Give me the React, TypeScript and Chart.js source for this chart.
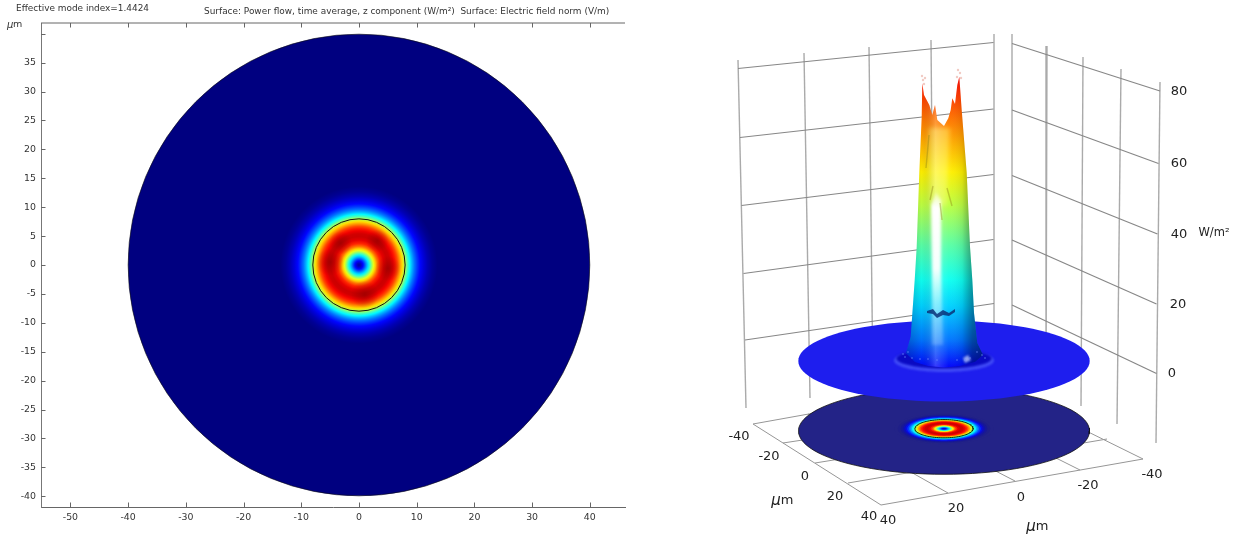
import React, { useEffect, useRef } from "react";
import { Chart, registerables } from "chart.js";

Chart.register(...registerables);

// ---------- data ----------
const xTicks = [-50, -40, -30, -20, -10, 0, 10, 20, 30, 40];
const yTicks = [-40, -35, -30, -25, -20, -15, -10, -5, 0, 5, 10, 15, 20, 25, 30, 35, 40];
const modeTitle = "Effective mode index=1.4424";
const surfaceTitle = "Surface: Power flow, time average, z component (W/m²)  Surface: Electric field norm (V/m)";
const fibreRadius = 40;
const coreRadius = 8;
// radial power profile (µm -> normalised power)
const profileRadius = [0, 0.35, 0.7, 1.0, 1.3, 1.6, 1.9, 2.2, 2.5, 2.8, 3.2, 3.7, 4.3, 4.9, 5.4, 5.9, 6.3, 6.7, 7.1, 7.5, 8, 8.4, 8.8, 9.2, 9.6, 10.1, 10.6, 11.2, 11.9, 12.7, 13.6];
const profilePower = [0.03, 0.07, 0.13, 0.2, 0.28, 0.35, 0.43, 0.52, 0.6, 0.67, 0.76, 0.84, 0.9, 0.925, 0.92, 0.89, 0.85, 0.8, 0.73, 0.66, 0.55, 0.45, 0.37, 0.3, 0.24, 0.18, 0.13, 0.09, 0.05, 0.02, 0];
// darker patches on the ring: x, y, radius (µm)
const darkPatches = [{ x: -5, y: 0.5, s: 2.4 }, { x: 5, y: -0.6, s: 2.2 }, { x: 1, y: -5.1, s: 2.4 }, { x: 3.2, y: 4.2, s: 2 }, { x: -3.2, y: 3.8, s: 2 }];

// 3-D view, in scene units of the picture
const wallLines = [
  [738, 60, 746, 408], [804, 53, 810, 398], [869, 47, 873, 388], [931, 40, 934, 380], [994, 34, 994, 375],
  [1012, 34, 1012, 375], [1047, 46, 1046, 390], [1083, 57, 1081, 406], [1121, 69, 1117, 424], [1160, 82, 1156, 443],
];
const wallRules = [
  [738, 68.5, 993.5, 42.5], [740, 137.5, 993.5, 109], [741.5, 205.5, 993.5, 174.5], [743.5, 273.5, 993.5, 239.5], [745, 340, 994, 303.5],
  [1012, 43.5, 1160, 91], [1012, 110, 1158.5, 163.5], [1012, 175.5, 1157.5, 234], [1012, 240, 1156.5, 304], [1012, 305, 1156.5, 373.5],
];
const floorLines = [
  [753, 424, 881, 505], [881, 505, 1143, 459], [753, 424, 987, 382], [1143, 459, 987, 382],
  [783, 443, 1033, 405], [815, 463, 1070, 422], [848, 483, 1107, 439],
  [948, 493, 808, 414], [1015, 481, 866, 404], [1080, 470, 926, 393],
];
const topDisc = { cx: 944, cy: 361, rx: 145.7, ry: 40.5 };
const bottomDisc = { cx: 944, cy: 431, rx: 145.5, ry: 43.3 };
const ringCentre = { cx: 944, cy: 428.7 };
const towerOutline = [
  [922.3, 83.3], [924, 95], [929.3, 105], [932.3, 115], [935, 105], [937.3, 120], [944, 126], [948.3, 118.3], [950.7, 110], [952.3, 98.3], [955, 104], [957.3, 85], [959.3, 76.7],
  [961.7, 110], [966.7, 173], [970, 246.7], [972.3, 280], [974, 313], [977.3, 343], [983, 355],
  [975, 362], [960, 366], [944, 367.5], [928, 366], [915, 362], [906, 353],
  [910.7, 336.7], [913.3, 300], [914.7, 280], [916.7, 246.7], [919.3, 173], [921.7, 116.7],
];
const towerStreak = [[936, 192], [941, 200], [941, 270], [943, 345], [932, 345], [932, 270], [931, 205]];
const towerGlow = [[929, 128], [950, 128], [947, 205], [930, 205]];
const towerCreases = [
  [[933, 186], [930, 200]], [[947, 188], [952, 206]], [[940, 203], [942, 220]], [[929, 135], [926, 168]],
];
const towerCrack = [[927, 311], [933, 309], [937, 314], [943, 310], [949, 313], [955, 309], [955, 312], [949, 316], [943, 315], [937, 318], [933, 314], [927, 313]];
const towerFuzz = [[922, 76], [923, 80], [925, 78], [924, 84], [958, 70], [960, 73], [957, 77], [961, 78]];
const baseSpecks = [[905, 357], [912, 358], [920, 359], [928, 359], [937, 360], [957, 360], [965, 360], [970, 358], [982, 355], [985, 358], [977, 352], [908, 352], [903, 354]];
const basePatch = [[963, 358], [968, 355], [971, 360], [965, 363]];
const axisLabels = [
  { t: "80", x: 1179, y: 92 }, { t: "60", x: 1179, y: 164 }, { t: "40", x: 1179, y: 235 }, { t: "20", x: 1178, y: 305 }, { t: "0", x: 1172, y: 374 },
  { t: "-40", x: 739, y: 437 }, { t: "-20", x: 769, y: 457 }, { t: "0", x: 805, y: 477 }, { t: "20", x: 835, y: 497 }, { t: "40", x: 869, y: 517 },
  { t: "40", x: 888, y: 521 }, { t: "20", x: 956, y: 509 }, { t: "0", x: 1021, y: 498 }, { t: "-20", x: 1088, y: 486 }, { t: "-40", x: 1152, y: 475 },
];
const micronLabels = [{ x: 781, y: 501 }, { x: 1036, y: 527 }];
const unitLabel = { t: "W/m²", x: 1214, y: 233 };

// ---------- colour helpers ----------
function jetRgb(v: number): number[] {
  const c = (x: number) => Math.round(255 * Math.max(0, Math.min(1, x)));
  return [c(Math.min(4 * v - 1.5, 4.5 - 4 * v)), c(Math.min(4 * v - 0.5, 3.5 - 4 * v)), c(Math.min(4 * v + 0.5, 2.5 - 4 * v))];
}
function jet(v: number): string {
  const [r, g, b] = jetRgb(v);
  return `rgb(${r},${g},${b})`;
}
const lowerDiscRgb = [35, 35, 135];
// weak power fades into the colour of the lower disc
function ringColor(v: number): string {
  const t = Math.min(1, v / 0.16);
  const rgb = jetRgb(v).map((c, i) => Math.round(c * t + lowerDiscRgb[i] * (1 - t)));
  return `rgb(${rgb[0]},${rgb[1]},${rgb[2]})`;
}
const FONT = '"DejaVu Sans", sans-serif';

function pairs(list: number[][]) {
  return list.map((p) => ({ x: p[0], y: p[1] }));
}
function ellipse(cx: number, cy: number, rx: number, ry: number) {
  const out: { x: number; y: number }[] = [];
  for (let i = 0; i <= 96; i++) {
    const a = (i / 96) * Math.PI * 2;
    out.push({ x: cx + rx * Math.cos(a), y: cy + ry * Math.sin(a) });
  }
  return out;
}

// ---------- plugins ----------
const polyFillPlugin = {
  id: "polyFill",
  beforeDatasetDraw(chart: any, args: any) {
    const ds = chart.data.datasets[args.index];
    if (!ds.polyFill) return;
    const ctx = chart.ctx;
    ctx.save();
    if (ds.polyBlur) ctx.filter = `blur(${ds.polyBlur}px)`;
    ctx.fillStyle = typeof ds.polyFill === "function" ? ds.polyFill(chart) : ds.polyFill;
    ctx.beginPath();
    args.meta.data.forEach((p: any, i: number) => (i ? ctx.lineTo(p.x, p.y) : ctx.moveTo(p.x, p.y)));
    ctx.closePath();
    ctx.fill();
    ctx.restore();
  },
};

const leftFrame = {
  id: "leftFrame",
  afterDraw(chart: any) {
    const { ctx, chartArea: a, scales } = chart;
    ctx.save();
    ctx.strokeStyle = "#666";
    ctx.lineWidth = 1;
    ctx.beginPath();
    ctx.moveTo(a.left, a.top);
    ctx.lineTo(a.right, a.top);
    xTicks.forEach((v) => {
      const x = Math.round(scales.x.getPixelForValue(v)) + 0.5;
      ctx.moveTo(x, a.top);
      ctx.lineTo(x, a.top + 4.5);
      ctx.moveTo(x, a.bottom);
      ctx.lineTo(x, a.bottom - 4.5);
    });
    yTicks.forEach((v) => {
      const y = Math.round(scales.y.getPixelForValue(v)) + 0.5;
      ctx.moveTo(a.left, y);
      ctx.lineTo(a.left + 4.5, y);
    });
    ctx.stroke();
    ctx.fillStyle = "#333";
    ctx.textBaseline = "middle";
    ctx.font = `8.93px ${FONT}`;
    ctx.fillText(modeTitle, 16, 9);
    ctx.fillText(surfaceTitle, 204, 11.5);
    ctx.font = `italic 10px ${FONT}`;
    ctx.fillText("μ", 7, 25);
    ctx.font = `9.5px ${FONT}`;
    ctx.fillText("m", 13, 25);
    ctx.restore();
  },
};

const rightText = {
  id: "rightText",
  afterDraw(chart: any) {
    const { ctx, scales } = chart;
    const px = (p: any) => [scales.x.getPixelForValue(p.x), scales.y.getPixelForValue(p.y)];
    ctx.save();
    ctx.fillStyle = "#222";
    ctx.textAlign = "center";
    ctx.textBaseline = "middle";
    ctx.font = `13px ${FONT}`;
    axisLabels.forEach((l) => {
      const [x, y] = px(l);
      ctx.fillText(l.t, x, y);
    });
    ctx.font = `11.5px ${FONT}`;
    const [ux, uy] = px(unitLabel);
    ctx.fillText(unitLabel.t, ux, uy);
    micronLabels.forEach((l) => {
      const [x, y] = px(l);
      ctx.font = `italic 15px ${FONT}`;
      ctx.fillText("μ", x - 5, y);
      ctx.font = `13px ${FONT}`;
      ctx.fillText("m", x + 6, y);
    });
    ctx.restore();
  },
};

// ---------- dataset builders for the 3-D view ----------
function segment(s: number[], color: string, width: number) {
  return {
    type: "scatter",
    showLine: true,
    borderColor: color,
    borderWidth: width,
    pointRadius: 0,
    data: [{ x: s[0], y: s[1] }, { x: s[2], y: s[3] }],
  };
}
function polygon(data: any[], fill: any, blur = 0) {
  return { type: "scatter", showLine: false, pointRadius: 0, data, polyFill: fill, polyBlur: blur };
}

function towerHeightGradient(chart: any) {
  const y = (v: number) => chart.scales.y.getPixelForValue(v);
  const g = chart.ctx.createLinearGradient(0, y(76), 0, y(368));
  const stops: [number, number][] = [[76, 0.87], [115, 0.77], [145, 0.7], [172, 0.64], [205, 0.56], [246, 0.46], [280, 0.39], [306, 0.33], [340, 0.24], [368, 0.12]];
  stops.forEach(([py, v]) => g.addColorStop((py - 76) / (368 - 76), jet(v)));
  return g;
}
function towerShade(chart: any) {
  const x = (v: number) => chart.scales.x.getPixelForValue(v);
  const g = chart.ctx.createLinearGradient(x(906), 0, x(984), 0);
  g.addColorStop(0, "rgba(0,0,40,0.22)");
  g.addColorStop(0.2, "rgba(0,0,0,0.02)");
  g.addColorStop(0.38, "rgba(255,255,255,0.22)");
  g.addColorStop(0.55, "rgba(255,255,255,0.02)");
  g.addColorStop(0.72, "rgba(0,0,0,0.08)");
  g.addColorStop(0.85, "rgba(0,0,20,0.38)");
  g.addColorStop(1, "rgba(0,0,40,0.55)");
  return g;
}
function streakFill(chart: any) {
  const y = (v: number) => chart.scales.y.getPixelForValue(v);
  const g = chart.ctx.createLinearGradient(0, y(192), 0, y(345));
  g.addColorStop(0, "rgba(255,255,255,0.3)");
  g.addColorStop(0.1, "rgba(255,255,255,1)");
  g.addColorStop(0.5, "rgba(255,255,255,0.95)");
  g.addColorStop(0.72, "rgba(220,255,255,0.5)");
  g.addColorStop(1, "rgba(200,230,255,0.25)");
  return g;
}

export default function App() {
  const leftRef = useRef<HTMLCanvasElement>(null);
  const rightRef = useRef<HTMLCanvasElement>(null);

  useEffect(() => {
    // scales have no pixel size until the first layout has run
    const umToPx = (c: any, r: number) => {
      const d = Math.abs(c.chart.scales.x.getPixelForValue(r) - c.chart.scales.x.getPixelForValue(0));
      return Number.isFinite(d) ? d : 0;
    };
    const outerR = profileRadius[profileRadius.length - 1];
    const fieldGradient = (c: any) => {
      const { x, y } = c.chart.scales;
      const cx = x.getPixelForValue(0);
      const cy = y.getPixelForValue(0);
      const R = umToPx(c, outerR);
      if (!Number.isFinite(cx) || !Number.isFinite(cy) || !R) return "transparent";
      const g = c.chart.ctx.createRadialGradient(cx, cy, 0, cx, cy, R);
      profileRadius.forEach((r, i) => g.addColorStop(r / outerR, jet(profilePower[i])));
      return g;
    };
    const patchGradient = (c: any) => {
      if (!c.raw) return "transparent";
      const { x, y } = c.chart.scales;
      const cx = x.getPixelForValue(c.raw.x);
      const cy = y.getPixelForValue(c.raw.y);
      const R = umToPx(c, c.raw.s);
      if (!Number.isFinite(cx) || !Number.isFinite(cy) || !R) return "transparent";
      const g = c.chart.ctx.createRadialGradient(cx, cy, 0, cx, cy, R);
      g.addColorStop(0, "rgba(110,0,0,0.42)");
      g.addColorStop(1, "rgba(110,0,0,0)");
      return g;
    };
    const left = new Chart(leftRef.current as any, {
      type: "scatter",
      data: {
        datasets: [
          { order: 1, data: [{ x: 0, y: 0 }], pointRadius: (c: any) => umToPx(c, coreRadius), pointBackgroundColor: "transparent", pointBorderColor: "#111", pointBorderWidth: 1 },
          { order: 2, data: darkPatches, pointRadius: (c: any) => (c.raw ? umToPx(c, c.raw.s) : 0), pointBackgroundColor: patchGradient, pointBorderWidth: 0 },
          { order: 3, data: [{ x: 0, y: 0 }], pointRadius: (c: any) => umToPx(c, outerR), pointBackgroundColor: fieldGradient, pointBorderWidth: 0 },
          { order: 4, data: [{ x: 0, y: 0 }], pointRadius: (c: any) => umToPx(c, fibreRadius), pointBackgroundColor: "rgb(0,0,128)", pointBorderColor: "#111", pointBorderWidth: 0.6 },
        ],
      } as any,
      options: {
        responsive: false,
        animation: false,
        events: [],
        layout: { autoPadding: false, padding: { top: 23, right: 15, left: 0, bottom: 0 } },
        plugins: { legend: { display: false }, tooltip: { enabled: false } },
        scales: {
          x: {
            type: "linear", min: -55.1, max: 46.1,
            afterFit: (s: any) => { s.height = 28; },
            grid: { display: false, drawTicks: false },
            border: { display: true, color: "#666", width: 1 },
            ticks: { stepSize: 10, includeBounds: false, color: "#333", font: { family: FONT, size: 9.4 }, padding: 5, maxRotation: 0, autoSkip: false },
          },
          y: {
            type: "linear", min: -41.85, max: 41.85,
            afterFit: (s: any) => { s.width = 41; },
            grid: { display: false, drawTicks: false },
            border: { display: true, color: "#777", width: 1 },
            ticks: { stepSize: 5, includeBounds: false, color: "#333", font: { family: FONT, size: 9.4 }, padding: 5, autoSkip: false, callback: (v: any) => (v === 40 ? "" : v) },
          },
        },
      } as any,
      plugins: [leftFrame],
    });

    const rings = profileRadius
      .map((r, i) => polygon(ellipse(ringCentre.cx, ringCentre.cy, r * 3.64, r * 1.14), ringColor(profilePower[i])))
      .reverse()
      .slice(0, -1);

    const layers: any[] = [
      ...wallLines.map((s) => segment(s, "rgba(170,170,170,1)", 1.4)),
      ...wallRules.map((s) => segment(s, "rgba(135,135,135,1)", 1.2)),
      ...floorLines.map((s) => segment(s, "rgba(150,150,150,1)", 1)),
      { type: "scatter", showLine: true, borderColor: "#111", borderWidth: 0.8, pointRadius: 0, data: ellipse(bottomDisc.cx, bottomDisc.cy, bottomDisc.rx, bottomDisc.ry), polyFill: "rgb(35,35,135)" },
      ...rings,
      { type: "scatter", showLine: true, borderColor: "#0a2a10", borderWidth: 1, pointRadius: 0, data: ellipse(ringCentre.cx, ringCentre.cy, coreRadius * 3.64, coreRadius * 1.14) },
      polygon(ellipse(topDisc.cx, topDisc.cy, topDisc.rx, topDisc.ry), "rgb(30,30,238)"),
      polygon(ellipse(944, 360.5, 50, 11.5), "rgba(95,115,255,0.55)", 1),
      polygon(ellipse(944, 358.5, 47.5, 10), "rgb(10,10,195)", 1),
      polygon(pairs(towerOutline), towerHeightGradient),
      polygon(pairs(towerGlow), "rgba(255,255,120,0.4)", 2),
      polygon(pairs(towerOutline), towerShade),
      polygon(pairs(towerStreak), streakFill, 1.5),
      ...towerCreases.map((c) => segment([c[0][0], c[0][1], c[1][0], c[1][1]], "rgba(140,130,20,0.4)", 1.4)),
      polygon(pairs(towerCrack), "rgba(10,50,120,0.85)"),
      polygon(pairs(basePatch), "rgba(190,205,255,0.75)", 0.8),
      { type: "scatter", pointRadius: 0.8, pointBackgroundColor: "rgba(110,140,255,0.8)", pointBorderWidth: 0, data: pairs(baseSpecks) },
      { type: "scatter", pointRadius: 1.2, pointBackgroundColor: "rgba(225,140,125,0.45)", pointBorderWidth: 0, data: pairs(towerFuzz) },
    ];
    // later layers sit on top
    layers.forEach((d, i) => { d.order = layers.length - i; });

    const right = new Chart(rightRef.current as any, {
      type: "scatter",
      data: { datasets: layers } as any,
      options: {
        responsive: false,
        animation: false,
        events: [],
        layout: { autoPadding: false, padding: 0 },
        plugins: { legend: { display: false }, tooltip: { enabled: false } },
        scales: {
          x: { type: "linear", min: 640, max: 1239, display: false },
          y: { type: "linear", min: 0, max: 535, reverse: true, display: false },
        },
      } as any,
      plugins: [polyFillPlugin, rightText],
    });
    return () => {
      left.destroy();
      right.destroy();
    };
  }, []);

  const soft = "blur(0.35px)";
  return (
    <div style={{ position: "absolute", left: 0, top: 0, width: 1239, height: 535, overflow: "hidden", background: "#fff" }}>
      <canvas ref={leftRef} width={640} height={535} style={{ position: "absolute", left: 0, top: 0, width: 640, height: 535, filter: soft }} />
      <canvas ref={rightRef} width={599} height={535} style={{ position: "absolute", left: 640, top: 0, width: 599, height: 535, filter: soft }} />
    </div>
  );
}
